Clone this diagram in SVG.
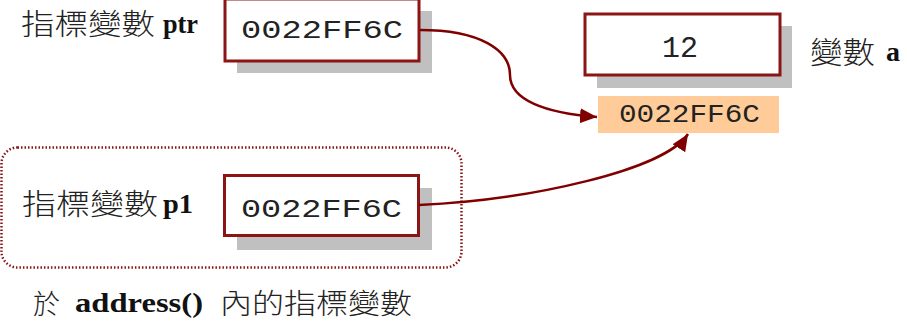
<svg xmlns="http://www.w3.org/2000/svg" width="907" height="326" viewBox="0 0 907 326">
<style>
.box{fill:#fff;stroke:#8B1414;stroke-width:3}
.shadow{fill:#C0C0C0}
.mono{font-family:"Liberation Mono","Courier New",monospace;fill:#222}
.cjk{font-family:"Noto Sans CJK TC","Noto Sans CJK SC",sans-serif;fill:#222;font-weight:300}
.ser{font-family:"Liberation Serif","Times New Roman",serif;font-weight:bold;fill:#111}
.conn{fill:none;stroke:#800000;stroke-width:2.5}
</style>
<defs>
<marker id="arr" markerUnits="userSpaceOnUse" markerWidth="18" markerHeight="16" refX="17" refY="7.5" orient="auto">
<path d="M0,0 L17,7.5 L0,15 Z" fill="#800000"/>
</marker>
</defs>
<g id="group-address">
<rect x="1.5" y="147.5" width="460" height="120" rx="16" ry="16" fill="none" stroke="#8B1414" stroke-width="2.5" stroke-dasharray="1.5 2"/>
<text class="cjk" x="33" y="314" font-size="27">於</text>
<text class="ser" x="75" y="312" font-size="27" textLength="128" lengthAdjust="spacingAndGlyphs">address()</text>
<text class="cjk" x="220" y="314" font-size="28" textLength="192" lengthAdjust="spacingAndGlyphs">內的指標變數</text>
</g>
<g id="node-ptr">
<rect class="shadow" x="237" y="11" width="195" height="62"/>
<rect class="box" x="225" y="-1" width="194" height="62"/>
<text class="mono" x="241" y="38" font-size="26" textLength="162" lengthAdjust="spacingAndGlyphs">0022FF6C</text>
<text class="cjk" x="21" y="35" font-size="29" textLength="134" lengthAdjust="spacingAndGlyphs">指標變數</text>
<text class="ser" x="163" y="33" font-size="27" textLength="35" lengthAdjust="spacingAndGlyphs">ptr</text>
</g>
<g id="node-p1">
<rect class="shadow" x="237" y="188" width="195" height="62"/>
<rect class="box" x="224.5" y="175.5" width="194" height="60"/>
<text class="mono" x="241" y="217" font-size="26" textLength="161" lengthAdjust="spacingAndGlyphs">0022FF6C</text>
<text class="cjk" x="22" y="215" font-size="29" textLength="136" lengthAdjust="spacingAndGlyphs">指標變數</text>
<text class="ser" x="163" y="213" font-size="27" textLength="30" lengthAdjust="spacingAndGlyphs">p1</text>
</g>
<g id="node-a">
<rect class="shadow" x="597" y="26" width="195" height="62"/>
<rect class="box" x="585" y="14" width="195" height="61"/>
<text class="mono" x="662" y="57" font-size="30" textLength="36" lengthAdjust="spacingAndGlyphs">12</text>
<text class="cjk" x="810" y="63" font-size="30" textLength="65" lengthAdjust="spacingAndGlyphs">變數</text>
<text class="ser" x="886" y="61" font-size="27" textLength="14" lengthAdjust="spacingAndGlyphs">a</text>
</g>
<g id="node-addr">
<rect x="598" y="96" width="181" height="37" fill="#FFCC99"/>
<text class="mono" x="619" y="122" font-size="25" textLength="141" lengthAdjust="spacingAndGlyphs">0022FF6C</text>
</g>
<g id="connectors">
<path class="conn" d="M420,30 C480,30 510,50 510,75 C510,100 545,113 597,117" marker-end="url(#arr)"/>
<path class="conn" d="M419,205 C530,200 665,170 688,134" marker-end="url(#arr)"/>
</g>
</svg>
